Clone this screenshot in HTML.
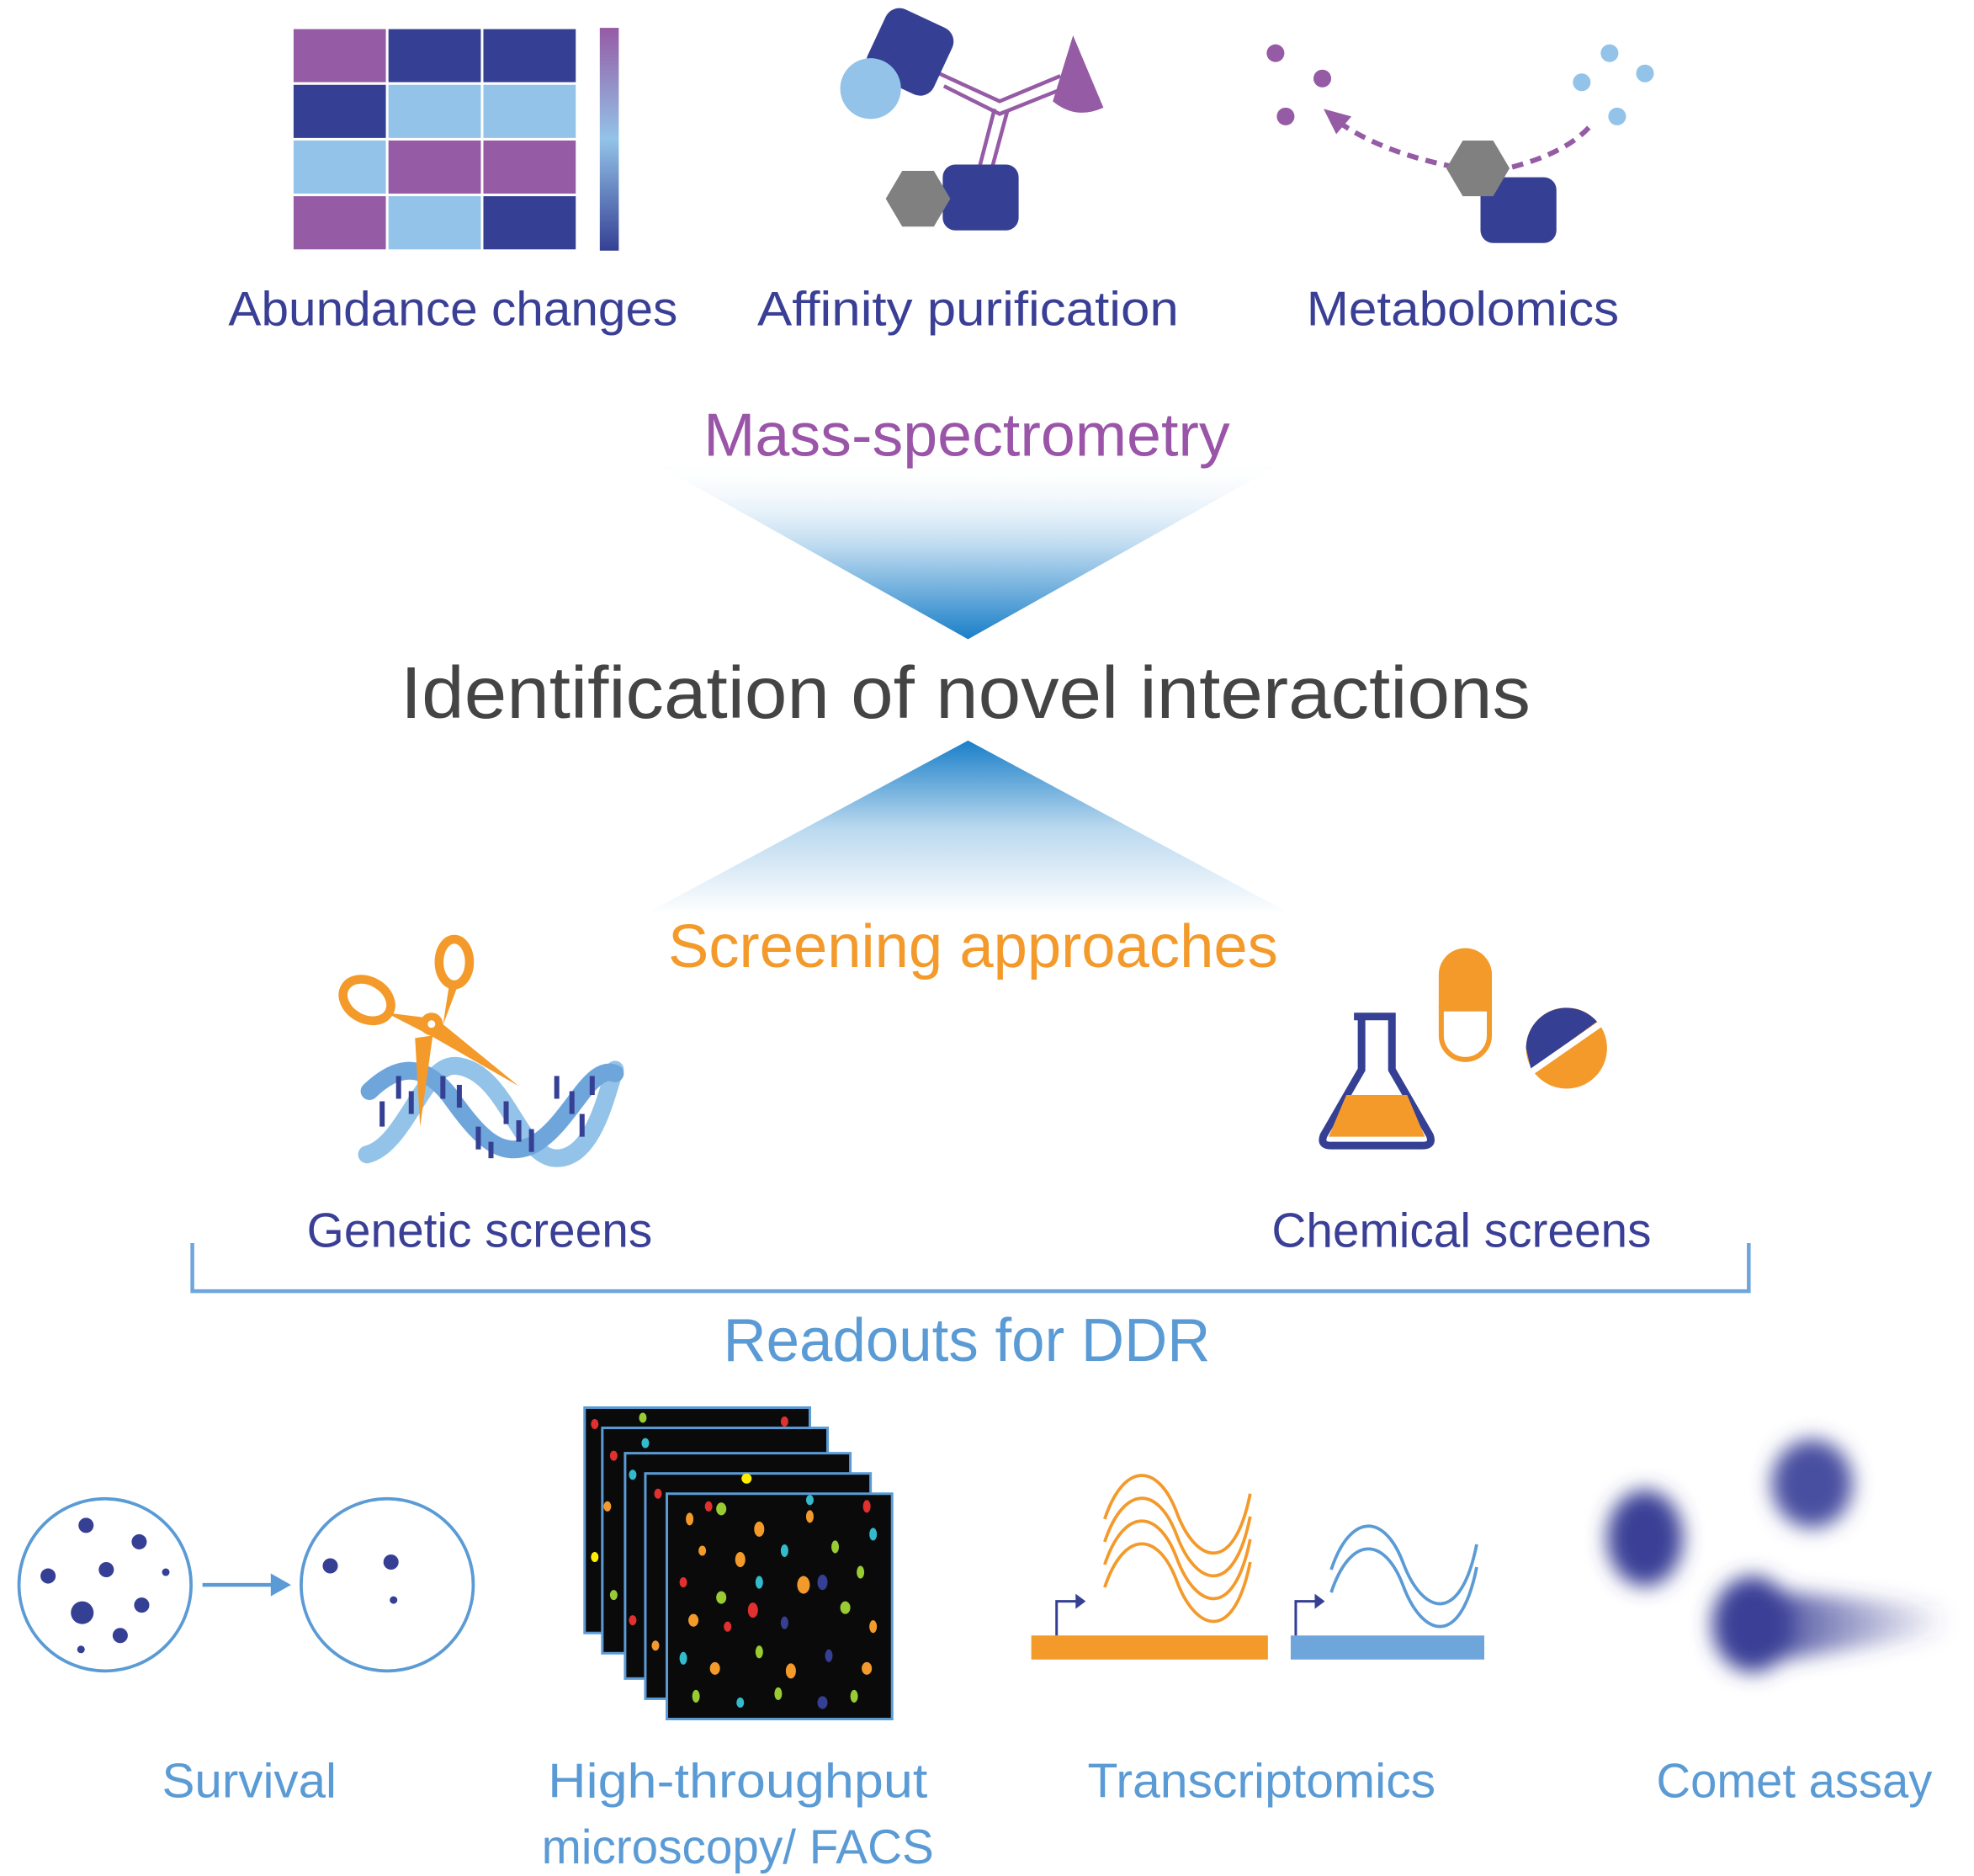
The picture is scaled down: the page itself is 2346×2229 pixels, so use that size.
<!DOCTYPE html>
<html><head><meta charset="utf-8"><style>
html,body{margin:0;padding:0;background:#fff;}
svg{display:block;}
text{font-family:"Liberation Sans",sans-serif;}
</style></head><body>
<svg width="2346" height="2229" viewBox="0 0 1560 1482" preserveAspectRatio="none" xmlns="http://www.w3.org/2000/svg">
<defs>
<linearGradient id="bar" x1="0" y1="0" x2="0" y2="1"><stop offset="0" stop-color="#955BA5"/><stop offset="0.5" stop-color="#93C3E8"/><stop offset="1" stop-color="#354094"/></linearGradient>
<linearGradient id="down" x1="0" y1="0" x2="0" y2="1"><stop offset="0" stop-color="#fff" stop-opacity="0"/><stop offset="0.5" stop-color="#b9d8ef"/><stop offset="1" stop-color="#1a7fc8"/></linearGradient>
<linearGradient id="up" x1="0" y1="0" x2="0" y2="1"><stop offset="0" stop-color="#1a7fc8"/><stop offset="0.5" stop-color="#b9d8ef"/><stop offset="1" stop-color="#fff"/></linearGradient>
<filter id="blur" x="-50%" y="-50%" width="200%" height="200%"><feGaussianBlur stdDeviation="8"/></filter>
<linearGradient id="tail" x1="0" y1="0" x2="1" y2="0"><stop offset="0" stop-color="#3a3f96"/><stop offset="1" stop-color="#3a3f96" stop-opacity="0"/></linearGradient>
</defs>

<g stroke="#fff" stroke-width="2">
<rect x="231" y="22" width="75" height="44" fill="#955BA5"/><rect x="306" y="22" width="75" height="44" fill="#354094"/><rect x="381" y="22" width="75" height="44" fill="#354094"/>
<rect x="231" y="66" width="75" height="44" fill="#354094"/><rect x="306" y="66" width="75" height="44" fill="#93C3E8"/><rect x="381" y="66" width="75" height="44" fill="#93C3E8"/>
<rect x="231" y="110" width="75" height="44" fill="#93C3E8"/><rect x="306" y="110" width="75" height="44" fill="#955BA5"/><rect x="381" y="110" width="75" height="44" fill="#955BA5"/>
<rect x="231" y="154" width="75" height="44" fill="#955BA5"/><rect x="306" y="154" width="75" height="44" fill="#93C3E8"/><rect x="381" y="154" width="75" height="44" fill="#354094"/>
</g>
<rect x="474" y="22" width="15" height="176" fill="url(#bar)"/>

<g fill="none" stroke="#955BA5" stroke-width="3">
<path d="M742,58 L790,80 L838,60"/><path d="M746,68 L790,90 L840,70"/>
<path d="M786,86 L772,140"/><path d="M796,88 L782,140"/>
</g>
<rect x="690" y="12" width="58" height="58" rx="12" fill="#354094" transform="rotate(25 719 41)"/>
<circle cx="688" cy="70" r="24" fill="#93C3E8"/>
<path d="M848,28 L872,85 Q850,95 832,80 Z" fill="#955BA5"/>
<rect x="745" y="130" width="60" height="52" rx="10" fill="#354094"/>
<polygon points="700,157 713,135 738,135 751,157 738,179 713,179" fill="#808080"/>

<g fill="#955BA5"><circle cx="1008" cy="42" r="7"/><circle cx="1045" cy="62" r="7"/><circle cx="1016" cy="92" r="7"/></g>
<g fill="#93C3E8"><circle cx="1272" cy="42" r="7"/><circle cx="1300" cy="58" r="7"/><circle cx="1250" cy="65" r="7"/><circle cx="1278" cy="92" r="7"/></g>
<g fill="none" stroke="#955BA5" stroke-width="4" stroke-dasharray="9 6">
<path d="M1150,132 Q1090,120 1056,95"/><path d="M1195,132 Q1240,120 1258,98"/>
</g>
<polygon points="1046,86 1068,92 1056,106" fill="#955BA5"/>
<rect x="1170" y="140" width="60" height="52" rx="10" fill="#354094"/>
<polygon points="1143,133 1156,111 1180,111 1193,133 1180,155 1156,155" fill="#808080"/>

<g fill="#3a3f96" font-size="38">
<text x="358" y="257" text-anchor="middle" textLength="355" lengthAdjust="spacingAndGlyphs">Abundance changes</text>
<text x="765" y="257" text-anchor="middle" textLength="333" lengthAdjust="spacingAndGlyphs">Affinity purification</text>
<text x="1156" y="257" text-anchor="middle" textLength="247" lengthAdjust="spacingAndGlyphs">Metabolomics</text>
</g>

<polygon points="510,362 1020,362 765,505" fill="url(#down)"/>
<text x="764" y="360" text-anchor="middle" font-size="48" fill="#9a55a8" textLength="416" lengthAdjust="spacingAndGlyphs">Mass-spectrometry</text>
<text x="763" y="567" text-anchor="middle" font-size="58" fill="#444" textLength="893" lengthAdjust="spacingAndGlyphs">Identification of novel interactions</text>
<polygon points="765,585 1020,722 510,722" fill="url(#up)"/>
<text x="769" y="764" text-anchor="middle" font-size="48" fill="#f39a2b" textLength="482" lengthAdjust="spacingAndGlyphs">Screening approaches</text>

<g fill="none" stroke-linecap="round">
<path d="M290,912 C320,905 335,840 360,842 C400,845 410,915 440,915 C470,915 480,860 486,845" stroke="#93C3E8" stroke-width="14"/>
<path d="M292,862 C315,840 335,840 355,865 C380,900 395,915 420,905 C450,890 465,840 486,848" stroke="#6ea6dc" stroke-width="14"/>
</g>
<g stroke="#354094" stroke-width="4">
<line x1="302" y1="870" x2="302" y2="890"/><line x1="315" y1="850" x2="315" y2="868"/><line x1="325" y1="862" x2="325" y2="880"/>
<line x1="350" y1="850" x2="350" y2="868"/><line x1="363" y1="857" x2="363" y2="875"/><line x1="378" y1="890" x2="378" y2="908"/>
<line x1="388" y1="902" x2="388" y2="915"/><line x1="410" y1="885" x2="410" y2="902"/><line x1="420" y1="892" x2="420" y2="910"/>
<line x1="440" y1="850" x2="440" y2="868"/><line x1="452" y1="862" x2="452" y2="880"/><line x1="468" y1="850" x2="468" y2="865"/>
<line x1="400" y1="870" x2="400" y2="888"/><line x1="460" y1="880" x2="460" y2="898"/>
</g>
<g fill="#f39a2b">
<ellipse cx="290" cy="790" rx="20" ry="15" fill="none" stroke="#f39a2b" stroke-width="7" transform="rotate(30 290 790)"/>
<ellipse cx="359" cy="760" rx="12" ry="18" fill="none" stroke="#f39a2b" stroke-width="7"/>
<polygon points="305,800 345,805 410,858 340,818"/>
<polygon points="355,778 362,778 350,810"/>
<polygon points="328,820 342,818 332,890"/>
<circle cx="341" cy="809" r="9"/>
</g>
<circle cx="341" cy="809" r="3" fill="#fff"/>

<path d="M1070,803 L1103,803 M1076,803 L1076,845 L1046,897 Q1043,905 1052,905 L1124,905 Q1133,905 1130,897 L1100,845 L1100,803" fill="none" stroke="#354094" stroke-width="6"/>
<path d="M1064,865 L1112,865 L1126,898 L1050,898 Z" fill="#f39a2b"/>
<path d="M1137,770 A21,21 0 0 1 1179,770 L1179,797 L1137,797 Z" fill="#f39a2b"/>
<path d="M1139,797 L1177,797 L1177,818 A19,19 0 0 1 1139,818 Z" fill="#fff" stroke="#f39a2b" stroke-width="4"/>
<circle cx="1238" cy="828" r="32" fill="#f39a2b"/>
<path d="M1206,828 A32,32 0 0 1 1262,807 L1210,845 Z" fill="#354094"/>
<line x1="1207" y1="849" x2="1266" y2="808" stroke="#fff" stroke-width="5"/>

<g fill="#3a3f96" font-size="38">
<text x="379" y="985" text-anchor="middle" textLength="273" lengthAdjust="spacingAndGlyphs">Genetic screens</text>
<text x="1155" y="985" text-anchor="middle" textLength="300" lengthAdjust="spacingAndGlyphs">Chemical screens</text>
</g>
<path d="M152,982 L152,1020 L1382,1020 L1382,982" fill="none" stroke="#6ea6dc" stroke-width="3"/>
<text x="764" y="1075" text-anchor="middle" font-size="48" fill="#5b9bd5" textLength="385" lengthAdjust="spacingAndGlyphs">Readouts for DDR</text>

<g fill="none" stroke="#5b9bd5" stroke-width="2.5"><ellipse cx="83" cy="1252" rx="68" ry="68"/><ellipse cx="306" cy="1252" rx="68" ry="68"/></g>
<line x1="160" y1="1252" x2="218" y2="1252" stroke="#5b9bd5" stroke-width="3"/>
<polygon points="230,1252 214,1243 214,1261" fill="#5b9bd5"/>
<g fill="#354094">
<circle cx="68" cy="1205" r="6"/><circle cx="110" cy="1218" r="6"/><circle cx="38" cy="1245" r="6"/><circle cx="84" cy="1240" r="6"/>
<circle cx="131" cy="1242" r="3"/><circle cx="65" cy="1274" r="9"/><circle cx="112" cy="1268" r="6"/><circle cx="95" cy="1292" r="6"/><circle cx="64" cy="1303" r="3"/>
<circle cx="261" cy="1237" r="6"/><circle cx="309" cy="1234" r="6"/><circle cx="311" cy="1264" r="3"/>
</g>

<g stroke="#5b9bd5" stroke-width="2" fill="#0a0a0a">
<rect x="462" y="1112" width="178" height="178"/>
<rect x="476" y="1128" width="178" height="178"/>
<rect x="494" y="1148" width="178" height="178"/>
<rect x="510" y="1164" width="178" height="178"/>
<rect x="527" y="1180" width="178" height="178"/>
</g>
<g>
<ellipse cx="470" cy="1125" rx="3" ry="4" fill="#e03030"/><ellipse cx="508" cy="1120" rx="3" ry="4" fill="#9c3"/><ellipse cx="620" cy="1123" rx="3" ry="4" fill="#e03030"/>
<ellipse cx="485" cy="1150" rx="3" ry="4" fill="#e03030"/><ellipse cx="510" cy="1140" rx="3" ry="4" fill="#3bc"/><ellipse cx="480" cy="1190" rx="3" ry="4" fill="#f39a2b"/>
<ellipse cx="500" cy="1165" rx="3" ry="4" fill="#3bc"/><ellipse cx="590" cy="1168" rx="4" ry="4" fill="#fe0"/><ellipse cx="470" cy="1230" rx="3" ry="4" fill="#fe0"/>
<ellipse cx="520" cy="1180" rx="3" ry="4" fill="#e03030"/><ellipse cx="560" cy="1190" rx="3" ry="4" fill="#e03030"/><ellipse cx="640" cy="1185" rx="3" ry="4" fill="#3bc"/>
<ellipse cx="485" cy="1260" rx="3" ry="4" fill="#9c3"/><ellipse cx="500" cy="1280" rx="3" ry="4" fill="#e03030"/><ellipse cx="518" cy="1300" rx="3" ry="4" fill="#f39a2b"/>
</g>
<g>
<ellipse cx="545" cy="1200" rx="3" ry="5" fill="#f39a2b"/><ellipse cx="570" cy="1192" rx="4" ry="5" fill="#9c3"/><ellipse cx="600" cy="1208" rx="4" ry="6" fill="#f39a2b"/><ellipse cx="640" cy="1198" rx="3" ry="5" fill="#f39a2b"/><ellipse cx="685" cy="1190" rx="3" ry="5" fill="#e03030"/>
<ellipse cx="555" cy="1225" rx="3" ry="4" fill="#f39a2b"/><ellipse cx="585" cy="1232" rx="4" ry="6" fill="#f39a2b"/><ellipse cx="620" cy="1225" rx="3" ry="5" fill="#3bc"/><ellipse cx="660" cy="1222" rx="3" ry="5" fill="#9c3"/><ellipse cx="690" cy="1212" rx="3" ry="5" fill="#3bc"/>
<ellipse cx="540" cy="1250" rx="3" ry="4" fill="#e03030"/><ellipse cx="570" cy="1262" rx="4" ry="5" fill="#9c3"/><ellipse cx="600" cy="1250" rx="3" ry="5" fill="#3bc"/><ellipse cx="635" cy="1252" rx="5" ry="7" fill="#f39a2b"/><ellipse cx="650" cy="1250" rx="4" ry="6" fill="#354094"/><ellipse cx="680" cy="1242" rx="3" ry="5" fill="#9c3"/>
<ellipse cx="548" cy="1280" rx="4" ry="5" fill="#f39a2b"/><ellipse cx="575" cy="1285" rx="3" ry="4" fill="#e03030"/><ellipse cx="595" cy="1272" rx="4" ry="6" fill="#e03030"/><ellipse cx="620" cy="1282" rx="3" ry="5" fill="#354094"/><ellipse cx="668" cy="1270" rx="4" ry="5" fill="#9c3"/><ellipse cx="690" cy="1285" rx="3" ry="5" fill="#f39a2b"/>
<ellipse cx="540" cy="1310" rx="3" ry="5" fill="#3bc"/><ellipse cx="565" cy="1318" rx="4" ry="5" fill="#f39a2b"/><ellipse cx="600" cy="1305" rx="3" ry="5" fill="#9c3"/><ellipse cx="625" cy="1320" rx="4" ry="6" fill="#f39a2b"/><ellipse cx="655" cy="1308" rx="3" ry="5" fill="#354094"/><ellipse cx="685" cy="1318" rx="4" ry="5" fill="#f39a2b"/>
<ellipse cx="550" cy="1340" rx="3" ry="5" fill="#9c3"/><ellipse cx="585" cy="1345" rx="3" ry="4" fill="#3bc"/><ellipse cx="615" cy="1338" rx="3" ry="5" fill="#9c3"/><ellipse cx="650" cy="1345" rx="4" ry="5" fill="#354094"/><ellipse cx="675" cy="1340" rx="3" ry="5" fill="#9c3"/>
</g>

<g fill="none" stroke="#f39a2b" stroke-width="2.5">
<path d="M873,1200 C888,1155 915,1155 930,1195 S975,1245 988,1180"/>
<path d="M873,1218 C888,1173 915,1173 930,1213 S975,1263 988,1198"/>
<path d="M873,1236 C888,1191 915,1191 930,1231 S975,1281 988,1216"/>
<path d="M873,1254 C888,1209 915,1209 930,1249 S975,1299 988,1234"/>
</g>
<g fill="none" stroke="#5b9bd5" stroke-width="2.5">
<path d="M1052,1240 C1067,1195 1094,1195 1109,1235 S1154,1285 1167,1220"/>
<path d="M1052,1258 C1067,1213 1094,1213 1109,1253 S1154,1303 1167,1238"/>
</g>
<rect x="815" y="1292" width="187" height="19" fill="#f39a2b"/>
<rect x="1020" y="1292" width="153" height="19" fill="#6ea6dc"/>
<g stroke="#354094" stroke-width="2" fill="none"><path d="M835,1292 L835,1265 L852,1265"/><path d="M1024,1292 L1024,1265 L1041,1265"/></g>
<polygon points="858,1265 850,1259 850,1271" fill="#354094"/><polygon points="1047,1265 1039,1259 1039,1271" fill="#354094"/>

<g filter="url(#blur)">
<ellipse cx="1300" cy="1215" rx="30" ry="38" fill="#3a3f96"/>
<ellipse cx="1432" cy="1172" rx="32" ry="35" fill="#4a50a0"/>
<path d="M1385,1255 L1540,1270 L1540,1290 L1385,1315 Z" fill="url(#tail)"/>
<ellipse cx="1385" cy="1283" rx="32" ry="38" fill="#3a3f96"/>
</g>

<g fill="#5b9bd5" font-size="38">
<text x="197" y="1420" text-anchor="middle" textLength="138" lengthAdjust="spacingAndGlyphs">Survival</text>
<text x="583" y="1420" text-anchor="middle" textLength="300" lengthAdjust="spacingAndGlyphs">High-throughput</text>
<text x="583" y="1472" text-anchor="middle" textLength="310" lengthAdjust="spacingAndGlyphs">microscopy/ FACS</text>
<text x="997" y="1420" text-anchor="middle" textLength="275" lengthAdjust="spacingAndGlyphs">Transcriptomics</text>
<text x="1418" y="1420" text-anchor="middle" textLength="218" lengthAdjust="spacingAndGlyphs">Comet assay</text>
</g>
</svg>
</body></html>
